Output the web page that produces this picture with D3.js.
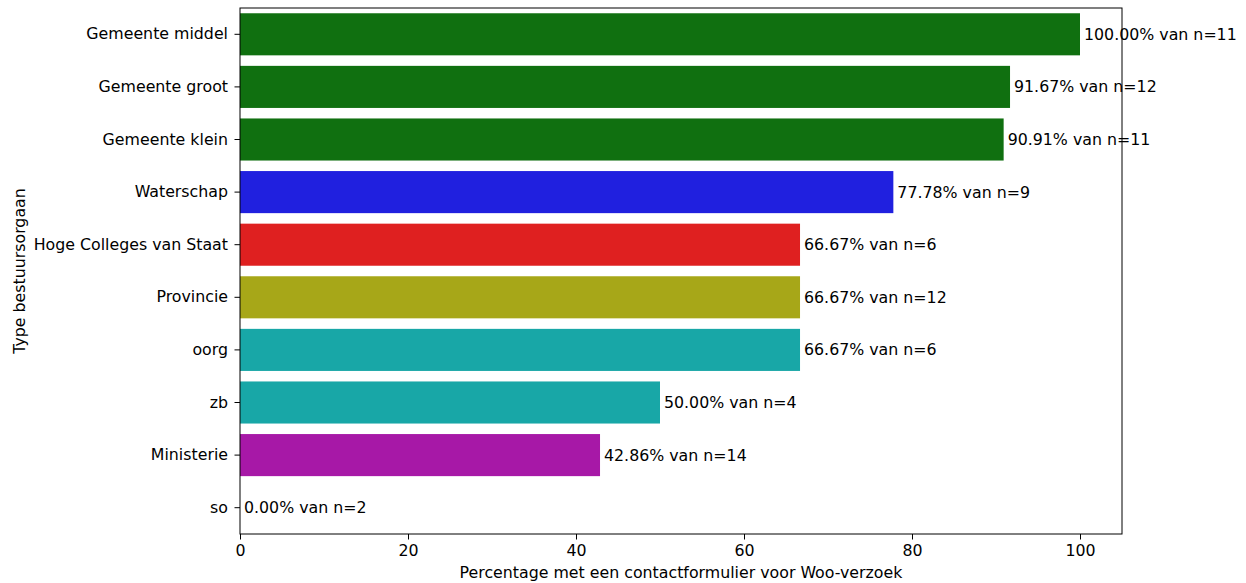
<!DOCTYPE html>
<html><head><meta charset="utf-8">
<script src="https://cdn.jsdelivr.net/npm/d3@7"></script>
<style>body{margin:0;background:#fff}svg{display:block;font-family:"DejaVu Sans",sans-serif}</style>
</head><body>
<svg id="c" width="1246" height="583"></svg>
<script>
const categories = ["Gemeente middel","Gemeente groot","Gemeente klein","Waterschap","Hoge Colleges van Staat","Provincie","oorg","zb","Ministerie","so"];
const percentages = [100.00, 91.67, 90.91, 77.78, 66.67, 66.67, 66.67, 50.00, 42.86, 0.00];
const counts = [11, 12, 11, 9, 6, 12, 6, 4, 14, 2];
const colors = ["#107010","#107010","#107010","#2020df","#df2020","#a7a718","#18a7a7","#18a7a7","#a718a7","#18a7a7"];
const xTicks = [0,20,40,60,80,100];

const svg = d3.select("#c");
const L=240, R=1122, T=8, B=534;
const fs = 15.8;
const x = d3.scaleLinear().domain([0,105]).range([L,R]);
const y = d3.scaleBand().domain(categories).range([T,B]).paddingInner(0.2).paddingOuter(0.1);

svg.selectAll("rect.bar").data(categories).enter().append("rect")
  .attr("x", x(0)).attr("y", d=>y(d))
  .attr("width", (d,i)=>x(percentages[i])-x(0))
  .attr("height", y.bandwidth())
  .attr("fill", (d,i)=>colors[i]);

svg.selectAll("text.val").data(categories).enter().append("text")
  .attr("x", (d,i)=>x(percentages[i])+4)
  .attr("y", d=>y(d)+y.bandwidth()/2)
  .attr("dy","0.35em")
  .attr("font-size", fs)
  .text((d,i)=>percentages[i].toFixed(2)+"% van n="+counts[i]);

const xa = svg.append("g").attr("transform",`translate(0,${B})`)
  .call(d3.axisBottom(x).tickValues(xTicks).tickSize(5.5).tickPadding(5));
xa.select(".domain").remove();
xa.selectAll("text").attr("font-size",fs).attr("font-family","DejaVu Sans").attr("fill","#000");
xa.selectAll("line").attr("stroke","#000").attr("stroke-width",1);

const ya = svg.append("g").attr("transform",`translate(${L},0)`)
  .call(d3.axisLeft(y).tickSize(5.5).tickPadding(6.5));
ya.select(".domain").remove();
ya.selectAll("text").attr("font-size",fs).attr("font-family","DejaVu Sans").attr("fill","#000");
ya.selectAll("line").attr("stroke","#000").attr("stroke-width",1);

svg.append("rect").attr("x",L).attr("y",T).attr("width",R-L).attr("height",B-T)
  .attr("fill","none").attr("stroke","#000").attr("stroke-width",1);

svg.append("text").attr("x",(L+R)/2).attr("y",578).attr("text-anchor","middle")
  .attr("font-size",fs).text("Percentage met een contactformulier voor Woo-verzoek");
svg.append("text").attr("transform",`translate(25,${(T+B)/2}) rotate(-90)`).attr("text-anchor","middle")
  .attr("font-size",fs).text("Type bestuursorgaan");
</script>
</body></html>
